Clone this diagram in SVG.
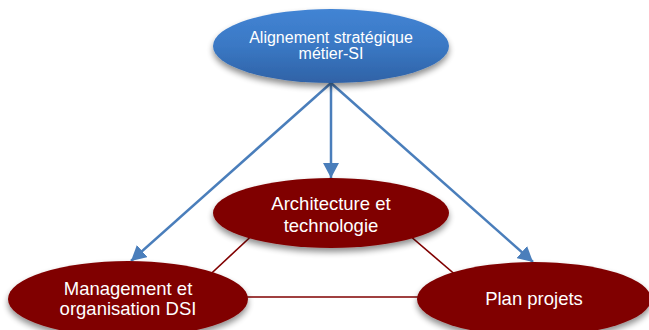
<svg xmlns="http://www.w3.org/2000/svg" width="649" height="330" viewBox="0 0 649 330">
  <defs>
    <linearGradient id="blueFill" x1="0" y1="0" x2="0" y2="1">
      <stop offset="0" stop-color="#4284d4"/>
      <stop offset="0.5" stop-color="#3a78c4"/>
      <stop offset="1" stop-color="#2f62a6"/>
    </linearGradient>
    <filter id="shadow" x="-20%" y="-30%" width="140%" height="170%">
      <feGaussianBlur in="SourceAlpha" stdDeviation="3"/>
      <feOffset dx="0" dy="4" result="blur"/>
      <feComponentTransfer><feFuncA type="linear" slope="0.45"/></feComponentTransfer>
      <feMerge><feMergeNode/><feMergeNode in="SourceGraphic"/></feMerge>
    </filter>
    <marker id="arrow" markerUnits="userSpaceOnUse" markerWidth="16" markerHeight="16" refX="15" refY="8" orient="auto">
      <path d="M0,0 L15,8 L0,16 Z" fill="#4a7ebb"/>
    </marker>
    <style>
      .node-red { fill: #800000; filter: url(#shadow); }
      .node-blue { fill: url(#blueFill); filter: url(#shadow); }
      .label { font-family: "Liberation Sans", Arial, sans-serif; fill: #ffffff; text-anchor: middle; }
      .top { font-size: 16px; }
      .big { font-size: 18.5px; }
      .arrow { stroke: #4a7ebb; stroke-width: 2.5; fill: none; marker-end: url(#arrow); }
      .link { stroke: #800000; stroke-width: 1.6; fill: none; }
    </style>
  </defs>
  <rect width="649" height="330" fill="#ffffff"/>

  <g id="connectors">
    <line class="link" x1="260" y1="228" x2="200" y2="284"/>
    <line class="link" x1="402" y1="229" x2="465" y2="283"/>
    <line class="link" x1="240" y1="297" x2="425" y2="297"/>
    <line class="arrow" x1="331" y1="83" x2="331" y2="178"/>
    <line class="arrow" x1="331" y1="83" x2="131" y2="261"/>
    <line class="arrow" x1="331" y1="83" x2="533" y2="262"/>
  </g>

  <g id="alignement">
    <ellipse class="node-blue" cx="331" cy="46" rx="118" ry="37"/>
    <text class="label top" x="331" y="43">Alignement stratégique</text>
    <text class="label top" x="331" y="59">métier-SI</text>
  </g>

  <g id="architecture">
    <ellipse class="node-red" cx="331" cy="213" rx="118" ry="35"/>
    <text class="label big" x="331" y="210">Architecture et</text>
    <text class="label big" x="331" y="232">technologie</text>
  </g>

  <g id="management">
    <ellipse class="node-red" cx="128" cy="299" rx="120" ry="38"/>
    <text class="label big" x="128" y="295">Management et</text>
    <text class="label big" x="128" y="315">organisation DSI</text>
  </g>

  <g id="plan-projets">
    <ellipse class="node-red" cx="534" cy="299" rx="117" ry="37"/>
    <text class="label big" x="534" y="305">Plan projets</text>
  </g>
</svg>
